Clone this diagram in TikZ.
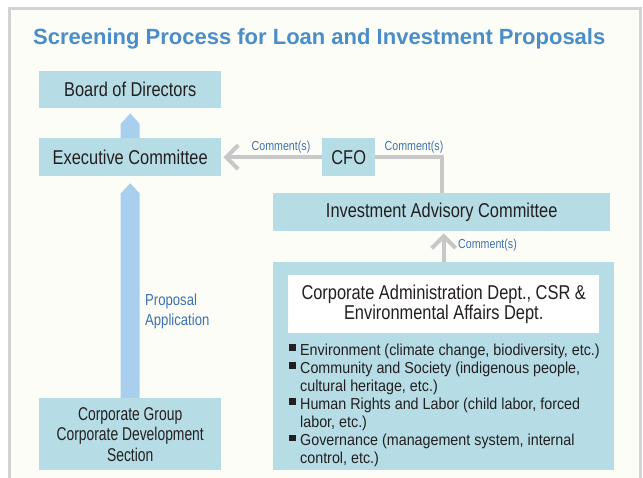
\documentclass[tikz,border=0pt]{standalone}
\usepackage{fontspec}
\setmainfont{Liberation Sans}[FakeStretch=0.82]
\newfontfamily\cfb{Liberation Sans}[FakeStretch=0.9]
\newfontfamily\cfc{Liberation Sans}[FakeStretch=0.75]
\newfontfamily\tfont{Liberation Sans}
\usetikzlibrary{arrows.meta,calc}
\definecolor{boxblue}{HTML}{B6DDE6}
\definecolor{arrowblue}{HTML}{A8D0EE}
\definecolor{connGray}{HTML}{C8C8C8}
\definecolor{titleblue}{HTML}{4A8DC9}
\definecolor{labelblue}{HTML}{3D72B0}
\definecolor{panel}{HTML}{FCFDF7}
\definecolor{frameGray}{HTML}{D3D3D3}
\definecolor{ink}{HTML}{231F20}
\newcommand{\bul}{\makebox[11pt][l]{\raisebox{4.5pt}{\rule{6.5pt}{6.5pt}}}}
\begin{document}
\begin{tikzpicture}[x=1pt,y=-1pt,
  box/.style={fill=boxblue, text=ink, inner sep=0pt, anchor=north west, align=center, font=\fontsize{20}{20}\selectfont},
  conn/.style={draw=connGray, line width=4pt},
  tipbarb/.style={-{Straight Barb[length=12pt,width=24pt]}},
  lbl/.style={text=labelblue, font=\fontsize{13}{13}\selectfont, inner sep=0pt},
  pent/.style={fill=arrowblue}]
\useasboundingbox (0,0) rectangle (643,478);
\fill[white] (0,0) rectangle (643,478);
\filldraw[fill=panel, draw=frameGray, line width=3pt] (9,8.7) rectangle (640,520);

\node[anchor=base west, inner sep=0pt, text=titleblue, font=\tfont\bfseries\fontsize{22}{22}\selectfont] (title) at (33,45) {Screening Process for Loan and Investment Proposals};

\node[box, minimum width=182pt, minimum height=37pt] (board) at (39,71) {Board of Directors};
\node[box, minimum width=182pt, minimum height=38pt] (exec) at (39,138) {Executive Committee};
\node[box, minimum width=53pt, minimum height=38pt] (cfo) at (322,138) {CFO};
\node[box, minimum width=337pt, minimum height=38pt] (iac) at (273,193) {Investment Advisory Committee};
\node[box, minimum width=341pt, minimum height=208pt] (dept) at (273,262) {};
\node[box, fill=white, minimum width=311pt, minimum height=58pt] (deptw) at (288,275) {Corporate Administration Dept., CSR \&\\Environmental Affairs Dept.};
\node[box, minimum width=182pt, minimum height=72pt, font=\cfc\fontsize{18.5}{20.5}\selectfont] (corp) at (39,398) {Corporate Group\\Corporate Development\\Section};

\node[anchor=base west, inner sep=0pt, align=left, text=ink, font=\cfb\fontsize{15.9}{18.1}\selectfont] (list) at (289,463.7)
 {\bul Environment (climate change, biodiversity, etc.)\\
  \bul Community and Society (indigenous people,\\
  \hspace*{11pt}cultural heritage, etc.)\\
  \bul Human Rights and Labor (child labor, forced\\
  \hspace*{11pt}labor, etc.)\\
  \bul Governance (management system, internal\\
  \hspace*{11pt}control, etc.)};

% blue pentagon arrows
\fill[pent] ($(exec.north)+(-9.5,0)$) -- ($(exec.north)+(-9.5,-14)$) -- ($(board.south)+(0,5)$) -- ($(exec.north)+(9.5,-14)$) -- ($(exec.north)+(9.5,0)$) -- cycle;
\fill[pent] ($(corp.north)+(-9.5,0)$) -- ($(exec.south)+(-9.5,17)$) -- ($(exec.south)+(0,7)$) -- ($(exec.south)+(9.5,17)$) -- ($(corp.north)+(9.5,0)$) -- cycle;

\node[anchor=west, inner sep=0pt, align=left, text=labelblue, font=\fontsize{16}{20}\selectfont] (prop) at (145,311) {Proposal\\Application};

% gray connectors
\draw[conn, tipbarb, shorten >=2pt] (cfo.west) -- (exec.east);
\draw[conn] (cfo.east) -| (iac.north);
\draw[conn, tipbarb, shorten >=2pt] (dept.north) -- (dept.north |- iac.south);

\node[lbl] (c1) at (281,147) {Comment(s)};
\node[lbl] (c2) at (414,147) {Comment(s)};
\node[lbl, anchor=west] (c3) at (458,245) {Comment(s)};
\end{tikzpicture}
\end{document}
